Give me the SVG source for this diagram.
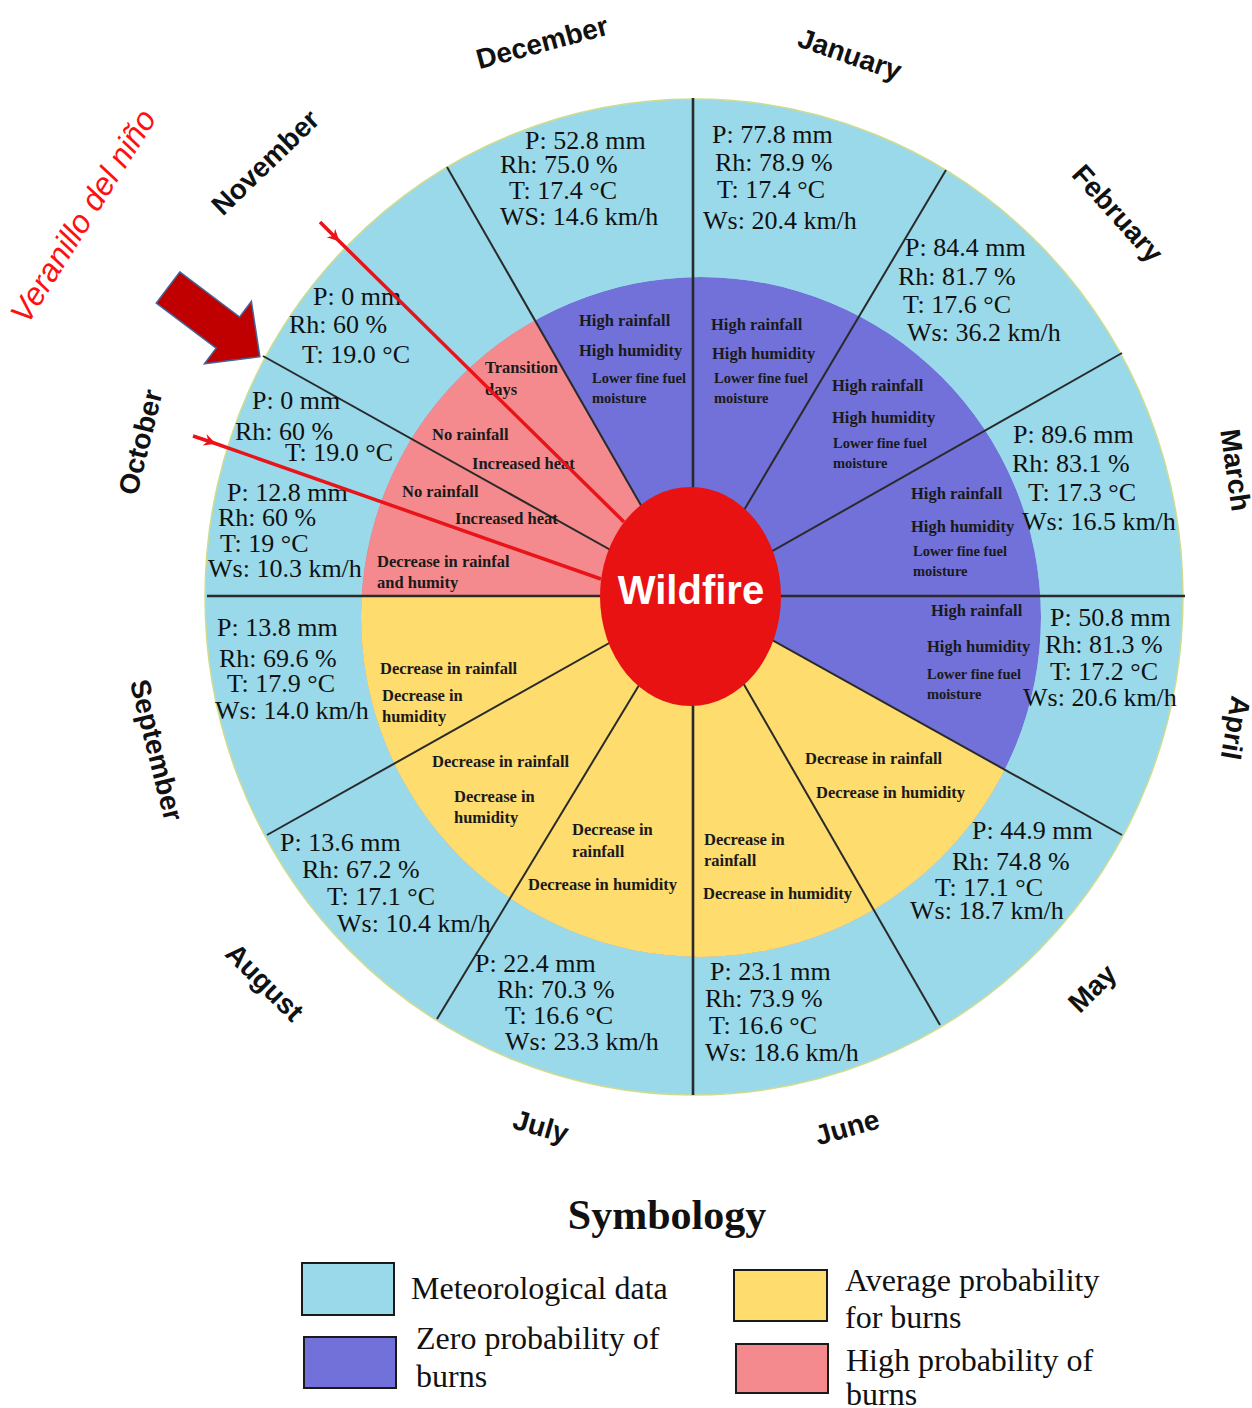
<svg xmlns="http://www.w3.org/2000/svg" width="1252" height="1408" viewBox="0 0 1252 1408">
<style>
.met{font-family:"Liberation Serif","Times New Roman",serif;font-size:26px;fill:#111}
.in{font-family:"Liberation Serif","Times New Roman",serif;font-size:16.5px;font-weight:bold;fill:#1a1a1a}
.sm{font-size:14.5px}
.mon{font-family:"Liberation Sans",Arial,sans-serif;font-size:28px;font-weight:bold;fill:#111;text-anchor:middle}
.div{stroke:#2a2a2a;stroke-width:2;fill:none}
.axis{stroke:#2a2a2a;stroke-width:2.6;fill:none}
.red{stroke:#E8141A;stroke-width:3.5;fill:none;marker-mid:url(#barb)}
.leg{font-family:"Liberation Serif","Times New Roman",serif;font-size:32px;fill:#111}
.box{stroke:#1a1a1a;stroke-width:2}
</style>
<defs>
<clipPath id="innerClip"><circle cx="701" cy="617" r="340"/></clipPath>
<marker id="barb" viewBox="-12 -7 16 14" markerWidth="16" markerHeight="14" refX="0" refY="0" orient="auto" markerUnits="userSpaceOnUse">
<path d="M2,0 L-10,-6 L-6,0 L-10,6 z" fill="#E8141A"/>
</marker>
</defs>
<rect width="1252" height="1408" fill="#ffffff"/>

<g id="ring">
<ellipse cx="694" cy="597" rx="489" ry="498" fill="#99D9EA" stroke="#cfdc90" stroke-width="1.5"/>
<g clip-path="url(#innerClip)">
<circle cx="701" cy="617" r="340" fill="#7171D9"/>
<polygon points="693,596 93,596 173,296 373,38" fill="#F58A8E"/>
<polygon points="693,596 1251,907 993,1116 693,1196 393,1116 173,896 93,596" fill="#FEDC6E"/>
</g>
</g>

<g id="dividers">
<line class="axis" x1="207" y1="596" x2="1185" y2="596"/>
<line class="axis" x1="693" y1="98" x2="693" y2="1095"/>
<line class="div" x1="693" y1="596" x2="1122" y2="353"/>
<line class="div" x1="693" y1="596" x2="946" y2="170"/>
<line class="div" x1="693" y1="596" x2="447" y2="167"/>
<line class="div" x1="693" y1="596" x2="263" y2="356"/>
<line class="div" x1="693" y1="596" x2="267" y2="835"/>
<line class="div" x1="693" y1="596" x2="437" y2="1019"/>
<line class="div" x1="693" y1="596" x2="940" y2="1025"/>
<line class="div" x1="693" y1="596" x2="1122" y2="835"/>
</g>

<g id="month-january">
<text class="mon" transform="translate(850,54) rotate(19)" y="10">January</text>
<text class="met" x="712" y="143">P: 77.8 mm</text>
<text class="met" x="715" y="171">Rh: 78.9 %</text>
<text class="met" x="717" y="198">T: 17.4 °C</text>
<text class="met" x="703" y="229">Ws: 20.4 km/h</text>
<text class="in" x="711" y="330">High rainfall</text>
<text class="in" x="712" y="359">High humidity</text>
<text class="in sm" x="714" y="383">Lower fine fuel</text>
<text class="in sm" x="714" y="403">moisture</text>
</g>

<g id="month-february">
<text class="mon" transform="translate(1118,213) rotate(48)" y="10">February</text>
<text class="met" x="905" y="256">P: 84.4 mm</text>
<text class="met" x="898" y="285">Rh: 81.7 %</text>
<text class="met" x="903" y="313">T: 17.6 °C</text>
<text class="met" x="907" y="341">Ws: 36.2 km/h</text>
<text class="in" x="832" y="391">High rainfall</text>
<text class="in" x="832" y="423">High humidity</text>
<text class="in sm" x="833" y="448">Lower fine fuel</text>
<text class="in sm" x="833" y="468">moisture</text>
</g>

<g id="month-march">
<text class="mon" transform="translate(1236,470) rotate(82)" y="10">March</text>
<text class="met" x="1013" y="443">P: 89.6 mm</text>
<text class="met" x="1012" y="472">Rh: 83.1 %</text>
<text class="met" x="1028" y="501">T: 17.3 °C</text>
<text class="met" x="1022" y="530">Ws: 16.5 km/h</text>
<text class="in" x="911" y="499">High rainfall</text>
<text class="in" x="911" y="532">High humidity</text>
<text class="in sm" x="913" y="556">Lower fine fuel</text>
<text class="in sm" x="913" y="576">moisture</text>
</g>

<g id="month-april">
<text class="mon" transform="translate(1236,728) rotate(100)" y="10">April</text>
<text class="met" x="1050" y="626">P: 50.8 mm</text>
<text class="met" x="1045" y="653">Rh: 81.3 %</text>
<text class="met" x="1050" y="680">T: 17.2 °C</text>
<text class="met" x="1023" y="706">Ws: 20.6 km/h</text>
<text class="in" x="931" y="616">High rainfall</text>
<text class="in" x="927" y="652">High humidity</text>
<text class="in sm" x="927" y="679">Lower fine fuel</text>
<text class="in sm" x="927" y="699">moisture</text>
</g>

<g id="month-may">
<text class="mon" transform="translate(1092,988) rotate(-45)" y="10">May</text>
<text class="met" x="972" y="839">P: 44.9 mm</text>
<text class="met" x="952" y="870">Rh: 74.8 %</text>
<text class="met" x="935" y="896">T: 17.1 °C</text>
<text class="met" x="910" y="919">Ws: 18.7 km/h</text>
<text class="in" x="805" y="764">Decrease in rainfall</text>
<text class="in" x="816" y="798">Decrease in humidity</text>
</g>

<g id="month-june">
<text class="mon" transform="translate(847,1127) rotate(-16)" y="10">June</text>
<text class="met" x="710" y="980">P: 23.1 mm</text>
<text class="met" x="705" y="1007">Rh: 73.9 %</text>
<text class="met" x="709" y="1034">T: 16.6 °C</text>
<text class="met" x="705" y="1061">Ws: 18.6 km/h</text>
<text class="in" x="704" y="845">Decrease in</text>
<text class="in" x="704" y="866">rainfall</text>
<text class="in" x="703" y="899">Decrease in humidity</text>
</g>

<g id="month-july">
<text class="mon" transform="translate(541,1126) rotate(16)" y="10">July</text>
<text class="met" x="475" y="972">P: 22.4 mm</text>
<text class="met" x="497" y="998">Rh: 70.3 %</text>
<text class="met" x="505" y="1024">T: 16.6 °C</text>
<text class="met" x="505" y="1050">Ws: 23.3 km/h</text>
<text class="in" x="572" y="835">Decrease in</text>
<text class="in" x="572" y="857">rainfall</text>
<text class="in" x="528" y="890">Decrease in humidity</text>
</g>

<g id="month-august">
<text class="mon" transform="translate(265,982) rotate(45)" y="10">August</text>
<text class="met" x="280" y="851">P: 13.6 mm</text>
<text class="met" x="302" y="878">Rh: 67.2 %</text>
<text class="met" x="327" y="905">T: 17.1 °C</text>
<text class="met" x="337" y="932">Ws: 10.4 km/h</text>
<text class="in" x="432" y="767">Decrease in rainfall</text>
<text class="in" x="454" y="802">Decrease in</text>
<text class="in" x="454" y="823">humidity</text>
</g>

<g id="month-september">
<text class="mon" transform="translate(157,750) rotate(76)" y="10">September</text>
<text class="met" x="217" y="636">P: 13.8 mm</text>
<text class="met" x="219" y="667">Rh: 69.6 %</text>
<text class="met" x="227" y="692">T: 17.9 °C</text>
<text class="met" x="215" y="719">Ws: 14.0 km/h</text>
<text class="in" x="380" y="674">Decrease in rainfall</text>
<text class="in" x="382" y="701">Decrease in</text>
<text class="in" x="382" y="722">humidity</text>
</g>

<g id="month-october">
<text class="mon" transform="translate(140,442) rotate(-76)" y="10">October</text>
<text class="met" x="252" y="409">P: 0 mm</text>
<text class="met" x="235" y="440">Rh: 60 %</text>
<text class="met" x="285" y="461">T: 19.0 °C</text>
<text class="met" x="227" y="501">P: 12.8 mm</text>
<text class="met" x="218" y="526">Rh: 60 %</text>
<text class="met" x="220" y="552">T: 19 °C</text>
<text class="met" x="208" y="577">Ws: 10.3 km/h</text>
<text class="in" x="402" y="497">No rainfall</text>
<text class="in" x="455" y="524">Increased heat</text>
<text class="in" x="377" y="567">Decrease in rainfal</text>
<text class="in" x="377" y="588">and humity</text>
</g>

<g id="month-november">
<text class="mon" transform="translate(265,162) rotate(-44)" y="10">November</text>
<text class="met" x="313" y="305">P: 0 mm</text>
<text class="met" x="289" y="333">Rh: 60 %</text>
<text class="met" x="302" y="363">T: 19.0 °C</text>
<text class="in" x="485" y="373">Transition</text>
<text class="in" x="485" y="395">days</text>
<text class="in" x="432" y="440">No rainfall</text>
<text class="in" x="472" y="469">Increased heat</text>
</g>

<g id="month-december">
<text class="mon" transform="translate(542,42) rotate(-15)" y="10">December</text>
<text class="met" x="525" y="149">P: 52.8 mm</text>
<text class="met" x="500" y="173">Rh: 75.0 %</text>
<text class="met" x="509" y="199">T: 17.4 °C</text>
<text class="met" x="500" y="225">WS: 14.6 km/h</text>
<text class="in" x="579" y="326">High rainfall</text>
<text class="in" x="579" y="356">High humidity</text>
<text class="in sm" x="592" y="383">Lower fine fuel</text>
<text class="in sm" x="592" y="403">moisture</text>
</g>

<g id="veranillo">
<text transform="translate(83,216) rotate(-58)" y="11" text-anchor="middle" font-family="Liberation Sans, Arial, sans-serif" font-style="italic" font-size="32" fill="#FF1010">Veranillo del niño</text>
</g>

<g id="connectors">
<polyline class="red" points="320,222 338,240 624,522"/>
<polyline class="red" points="193,436 214,443 601,579"/>
<polygon transform="translate(168,287.5) rotate(37)" points="0,-19.5 75,-19.5 75,-39 115,0 75,39 75,19.5 0,19.5" fill="#C00000" stroke="#41669A" stroke-width="1.5"/>
</g>

<g id="wildfire">
<ellipse cx="690.5" cy="596.5" rx="90.5" ry="109.5" fill="#E81212"/>
<text x="691" y="604" text-anchor="middle" font-family="Liberation Sans, Arial, sans-serif" font-weight="bold" font-size="40" fill="#ffffff">Wildfire</text>
</g>

<g id="legend">
<text x="667" y="1229" text-anchor="middle" font-family="Liberation Serif, Times New Roman, serif" font-weight="bold" font-size="42" fill="#111">Symbology</text>
<rect class="box" x="302" y="1263" width="92" height="52" fill="#99D9EA"/>
<text class="leg" x="411" y="1299">Meteorological data</text>
<rect class="box" x="304" y="1337" width="92" height="51" fill="#7171D9"/>
<text class="leg" x="416" y="1349">Zero probability of</text>
<text class="leg" x="416" y="1387">burns</text>
<rect class="box" x="734" y="1270" width="93" height="51" fill="#FEDC6E"/>
<text class="leg" x="845" y="1291">Average probability</text>
<text class="leg" x="845" y="1328">for burns</text>
<rect class="box" x="736" y="1344" width="92" height="49" fill="#F58A8E"/>
<text class="leg" x="846" y="1371">High probability of</text>
<text class="leg" x="846" y="1405">burns</text>
</g>
</svg>
